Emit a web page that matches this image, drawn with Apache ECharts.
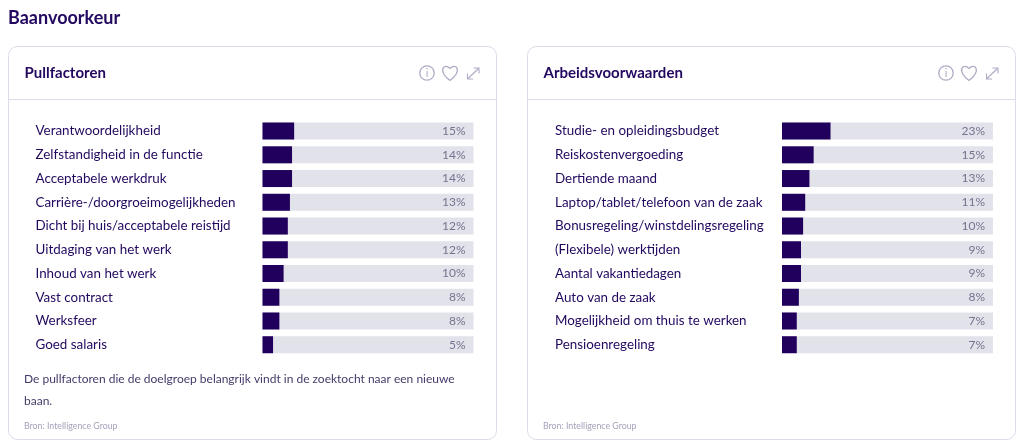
<!DOCTYPE html>
<html>
<head>
<meta charset="utf-8">
<title>Baanvoorkeur</title>
<script src="https://cdn.jsdelivr.net/npm/echarts@6/dist/echarts.min.js"></script>
<style>
html, body { margin: 0; padding: 0; background: #fff; }
#main { width: 1024px; height: 447px; }
</style>
</head>
<body>
<div id="main"></div>
<script>
var pullNames = ['Verantwoordelijkheid', 'Zelfstandigheid in de functie', 'Acceptabele werkdruk', 'Carrière-/doorgroeimogelijkheden', 'Dicht bij huis/acceptabele reistijd', 'Uitdaging van het werk', 'Inhoud van het werk', 'Vast contract', 'Werksfeer', 'Goed salaris'];
var pullValues = [15, 14, 14, 13, 12, 12, 10, 8, 8, 5];
var arbeidNames = ['Studie- en opleidingsbudget', 'Reiskostenvergoeding', 'Dertiende maand', 'Laptop/tablet/telefoon van de zaak', 'Bonusregeling/winstdelingsregeling', '(Flexibele) werktijden', 'Aantal vakantiedagen', 'Auto van de zaak', 'Mogelijkheid om thuis te werken', 'Pensioenregeling'];
var arbeidValues = [23, 15, 13, 11, 10, 9, 9, 8, 7, 7];

var font = 'Lato, "Noto Sans", sans-serif';
var ink = '#22085f';
var line = '#dddbe9';
var iconCol = '#aeaac4';

var myChart = echarts.init(document.getElementById('main'));

function pct(list) {
    return list.map(function (v) { return v + '%'; });
}

function iconLine(points, width) {
    return { type: 'polyline', shape: { points: points }, style: { fill: 'none', stroke: iconCol, lineWidth: width } };
}

// kaart met kop, lijn en iconen
function card(x, title) {
    var heartL = { type: 'bezierCurve', shape: { x1: x + 442, y1: 68.5, cpx1: x + 436, cpy1: 62.5, cpx2: x + 429, cpy2: 70.5, x2: x + 442, y2: 80.5 }, style: { fill: 'none', stroke: iconCol, lineWidth: 1.3 } };
    var heartR = { type: 'bezierCurve', shape: { x1: x + 442, y1: 68.5, cpx1: x + 448, cpy1: 62.5, cpx2: x + 455, cpy2: 70.5, x2: x + 442, y2: 80.5 }, style: { fill: 'none', stroke: iconCol, lineWidth: 1.3 } };
    return [
        { type: 'rect', shape: { x: x + 0.5, y: 46.5, width: 488, height: 393, r: 9 }, style: { fill: '#fff', stroke: line, lineWidth: 1 }, z: -1 },
        { type: 'line', shape: { x1: x + 1, y1: 99.5, x2: x + 488, y2: 99.5 }, style: { stroke: line, lineWidth: 1 }, z: -1 },
        { type: 'text', x: x + 16.5, y: 66, style: { text: title, font: 'bold 15px ' + font, fill: ink } },
        { type: 'circle', shape: { cx: x + 419, cy: 73, r: 7.2 }, style: { fill: 'none', stroke: iconCol, lineWidth: 1.3 } },
        { type: 'text', x: x + 419, y: 73, style: { text: 'i', font: '11px ' + font, fill: iconCol, align: 'center', verticalAlign: 'middle' } },
        heartL,
        heartR,
        iconLine([[x + 460, 78.5], [x + 470.5, 68.5]], 1.1),
        iconLine([[x + 465.5, 68], [x + 471, 68], [x + 471, 73.5]], 1.1),
        iconLine([[x + 459.5, 73.5], [x + 459.5, 79], [x + 465, 79]], 1.1),
        { type: 'text', x: x + 16, y: 422, style: { text: 'Bron: Intelligence Group', font: '8.8px ' + font, fill: '#a5a1ba' } }
    ];
}

var grids = [
    { left: 262.5, width: 211, top: 119.2, height: 237.4 },
    { left: 782, width: 211, top: 119.2, height: 237.4 }
];

function yAxes(names, values, idx) {
    return [{
        type: 'category', gridIndex: idx, inverse: true, data: names,
        axisLine: { show: false }, axisTick: { show: false },
        axisLabel: { margin: 227, align: 'left', fontFamily: font, fontSize: 13.4, color: ink, padding: [2, 0, 0, 0] }
    }, {
        type: 'category', gridIndex: idx, inverse: true, position: 'right', data: pct(values), z: 5,
        axisLine: { show: false }, axisTick: { show: false },
        axisLabel: { inside: true, margin: 8, fontFamily: font, fontSize: 12, color: '#77728f', padding: [2, 0, 0, 0] }
    }];
}

function bars(values, idx) {
    return {
        type: 'bar', xAxisIndex: idx, yAxisIndex: idx * 2, data: values,
        barWidth: 17, showBackground: true,
        backgroundStyle: { color: '#e2e2eb' },
        itemStyle: { color: '#21005d' },
        silent: true
    };
}

var xAxis = [0, 1].map(function (i) {
    return { type: 'value', gridIndex: i, min: 0, max: 100, show: false };
});

var option = {
    animation: false,
    grid: grids,
    xAxis: xAxis,
    yAxis: yAxes(pullNames, pullValues, 0).concat(yAxes(arbeidNames, arbeidValues, 1)),
    series: [bars(pullValues, 0), bars(arbeidValues, 1)],
    graphic: [
        { type: 'text', x: 8, y: 9, style: { text: 'Baanvoorkeur', font: 'bold 18px ' + font, fill: ink } },
        { type: 'text', x: 24, y: 373, style: { text: 'De pullfactoren die de doelgroep belangrijk vindt in de zoektocht naar een nieuwe', font: '12px ' + font, fill: '#453a69' } },
        { type: 'text', x: 24, y: 395, style: { text: 'baan.', font: '12px ' + font, fill: '#453a69' } }
    ].concat(card(8, 'Pullfactoren'), card(527, 'Arbeidsvoorwaarden'))
};

myChart.setOption(option);
</script>
</body>
</html>
